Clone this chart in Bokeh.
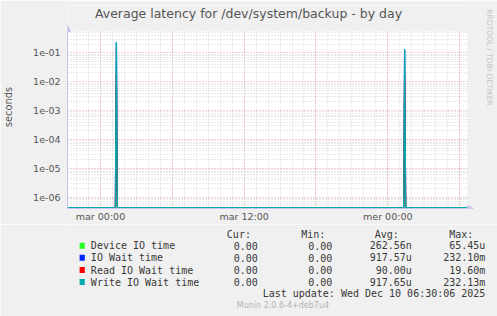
import numpy as np
from bokeh.plotting import figure
from bokeh.layouts import column
from bokeh.core.properties import value
from bokeh.models import (Label, FixedTicker, CustomJSTickFormatter, Range1d,
                          BoxAnnotation, Arrow, NormalHead)
from bokeh.embed import file_html
from bokeh.resources import INLINE

# ---------------- data ----------------
series_names = ["Device IO time", "IO Wait time", "Read IO Wait time", "Write IO Wait time"]
series_colors = ["#22ff22", "#0022ff", "#ff0000", "#00aaaa"]
spike_hours = [1.33, 25.42]            # hours since Tue (mar) 00:00
device_io = [6.545e-5, 4.0e-5]         # seconds
io_wait = [0.2321, 0.13]
read_wait = [0.0196, 0.0165]
write_wait = [0.23213, 0.13]

tick_hours = [0, 12, 24]
tick_labels = ["mar 00:00", "mar 12:00", "mer 00:00"]

cur_vals = ["0.00", "0.00", "0.00", "0.00"]
min_vals = ["0.00", "0.00", "0.00", "0.00"]
avg_vals = ["262.56n", "917.57u", "90.00u", "917.65u"]
max_vals = ["65.45u", "232.10m", "19.60m", "232.13m"]
headers = ["Cur:", "Min:", "Avg:", "Max:"]

title_text = "Average latency for /dev/system/backup - by day"
last_update = "Last update: Wed Dec 10 06:30:06 2025"
version_text = "Munin 2.0.6-4+deb7u4"
side_text = "RRDTOOL / TOBI OETIKER"

# ---------------- geometry ----------------
W, H = 497, 316
TOP_H = 224
FL, FB = 67, 208                       # frame left / bottom on the canvas
PX_PER_H = 11.97
PX_PER_DEC = 28.88
x_start, x_real_end = -2.757, 30.66
y_start, y_real_end = 4.06e-7, 0.547
frame_top = 5
x_end = x_real_end + (W - 467) / PX_PER_H
y_end = y_real_end * 10 ** ((31 - frame_top) / PX_PER_DEC)
y_floor = y_start * 10 ** (0.8 / PX_PER_DEC)   # zero values drawn on the bottom edge

step = 5.0 / 60.0
t = x_start + step * np.arange(int((x_real_end - x_start) / step) + 1)

def make_series(vals):
    v = np.zeros_like(t)
    for h, val in zip(spike_hours, vals):
        v[int(np.argmin(np.abs(t - h)))] = val
    return np.where(v > 0, v, y_floor)

p = figure(width=W, height=TOP_H, output_backend="svg", toolbar_location=None,
           y_axis_type="log",
           x_range=Range1d(x_start, x_end), y_range=Range1d(y_start, y_end),
           min_border_left=FL, min_border_right=0,
           min_border_top=frame_top, min_border_bottom=TOP_H - FB)
p.background_fill_color = "white"
p.border_fill_color = "#f0f0f0"
p.outline_line_color = None

for vals, col in zip([device_io, io_wait, read_wait, write_wait], series_colors):
    p.line(t, make_series(vals), line_color=col, line_width=1.3)

# axes
axis_col = "#c4c4ee"
p.yaxis.ticker = FixedTicker(ticks=[10.0 ** e for e in range(-6, 0)])
p.yaxis.formatter = CustomJSTickFormatter(code="""
const e = Math.round(Math.log10(tick));
const a = Math.abs(e);
return '1e' + (e < 0 ? '-' : '+') + (a < 10 ? '0' + a : '' + a);
""")
p.yaxis.bounds = (y_start, y_real_end)
p.xaxis.ticker = FixedTicker(ticks=tick_hours)
p.xaxis.major_label_overrides = {h: l for h, l in zip(tick_hours, tick_labels)}
p.xaxis.bounds = (x_start, x_real_end)
for ax in (p.xaxis, p.yaxis):
    ax.axis_line_color = axis_col
    ax.major_tick_out = 0
    ax.major_tick_in = 0
    ax.minor_tick_out = 0
    ax.minor_tick_in = 0
    ax.major_label_text_font = "DejaVu Sans"
    ax.major_label_text_font_size = "9.5px"
    ax.major_label_text_color = "#555555"
p.yaxis.major_label_standoff = 7
p.xaxis.major_label_standoff = 2
p.yaxis.axis_label = "seconds"
p.yaxis.axis_label_text_font = "DejaVu Sans"
p.yaxis.axis_label_text_font_size = "9.8px"
p.yaxis.axis_label_text_font_style = "normal"
p.yaxis.axis_label_text_color = "#555555"
p.yaxis.axis_label_standoff = 16

# grids
major_col, minor_col = "#eaa0a0", "#d4d4d4"
p.xgrid.ticker = FixedTicker(ticks=list(range(-6, 37, 6)), minor_ticks=list(range(-3, 34)))
p.ygrid.ticker = FixedTicker(ticks=[10.0 ** e for e in range(-7, 1)],
                             minor_ticks=[k * 10.0 ** e for e in range(-7, 1) for k in range(2, 10)])
for g in (p.xgrid, p.ygrid):
    g.grid_line_color = major_col
    g.grid_line_dash = "1 2"
    g.minor_grid_line_color = minor_col
    g.minor_grid_line_dash = "1 2"

# grey margins inside the (enlarged) frame
p.add_layout(BoxAnnotation(bottom=y_real_end, fill_color="#f0f0f0", fill_alpha=1.0,
                           line_color=None))
p.add_layout(BoxAnnotation(left=x_real_end, fill_color="#f0f0f0", fill_alpha=1.0,
                           line_color=None))

# axis arrows
p.add_layout(Arrow(x_start=0, y_start=0, x_end=0, y_end=FB - 25,
                   start_units="screen", end_units="screen",
                   line_color=axis_col, line_width=1,
                   end=NormalHead(size=6, fill_color=axis_col, line_color=axis_col)))
p.add_layout(Arrow(x_start=x_real_end * 0 + 400, y_start=0, x_end=473 - FL, y_end=0,
                   start_units="screen", end_units="screen",
                   line_color=axis_col, line_width=1,
                   end=NormalHead(size=6, fill_color=axis_col, line_color=axis_col)))

def lab(text, cx, cy, align="center", size="10px", font="DejaVu Sans",
        color="#555555", angle=0.0):
    p.add_layout(Label(x=cx - FL, y=FB - cy, x_units="screen", y_units="screen",
                       text=text, text_align=align, text_baseline="middle",
                       text_font_size=size, text_font=font, text_color=color,
                       angle=angle))

lab(title_text, 248, 13, size="12.5px")
lab(side_text, 489, 57, size="7.5px", color="#c4c4c4", angle=-np.pi / 2)

# ---------------- legend strip ----------------
q = figure(width=W, height=H - TOP_H, output_backend="svg", toolbar_location=None,
           x_range=Range1d(0, W), y_range=Range1d(H, TOP_H),
           min_border=0, min_border_left=0, min_border_right=0,
           min_border_top=0, min_border_bottom=0)
q.axis.visible = False
q.grid.visible = False
q.outline_line_color = None
q.background_fill_color = "#f0f0f0"
q.border_fill_color = "#f0f0f0"

mono = value("DejaVu Sans Mono")
sans = value("DejaVu Sans")
row_y = [245.3, 257.3, 269.6, 281.6]
head_x = [212, 298, 383, 469]
val_x = [220, 306, 398, 483]
txt_col = "#383838"

q.text(x=head_x, y=[234] * 4, text=headers, text_align="right", text_baseline="middle",
       text_font=mono, text_font_size="10px", text_color=txt_col)
q.rect(x=[17] * 4, y=row_y, width=6, height=6, fill_color=series_colors, line_color=None)
q.text(x=[27] * 4, y=row_y, text=series_names, text_align="left", text_baseline="middle",
       text_font=mono, text_font_size="10px", text_color=txt_col)
for xs, col_vals in zip(val_x, [cur_vals, min_vals, avg_vals, max_vals]):
    q.text(x=[xs] * 4, y=row_y, text=col_vals, text_align="right", text_baseline="middle",
           text_font=mono, text_font_size="10px", text_color=txt_col)
q.text(x=[483], y=[293.3], text=[last_update], text_align="right", text_baseline="middle",
       text_font=mono, text_font_size="10px", text_color=txt_col)
q.text(x=[249], y=[305.3], text=[version_text], text_align="center", text_baseline="middle",
       text_font=sans, text_font_size="8px", text_color="#b4b4b4")

layout = column(p, q, spacing=0)
open("out.html", "w").write(file_html(layout, INLINE))
